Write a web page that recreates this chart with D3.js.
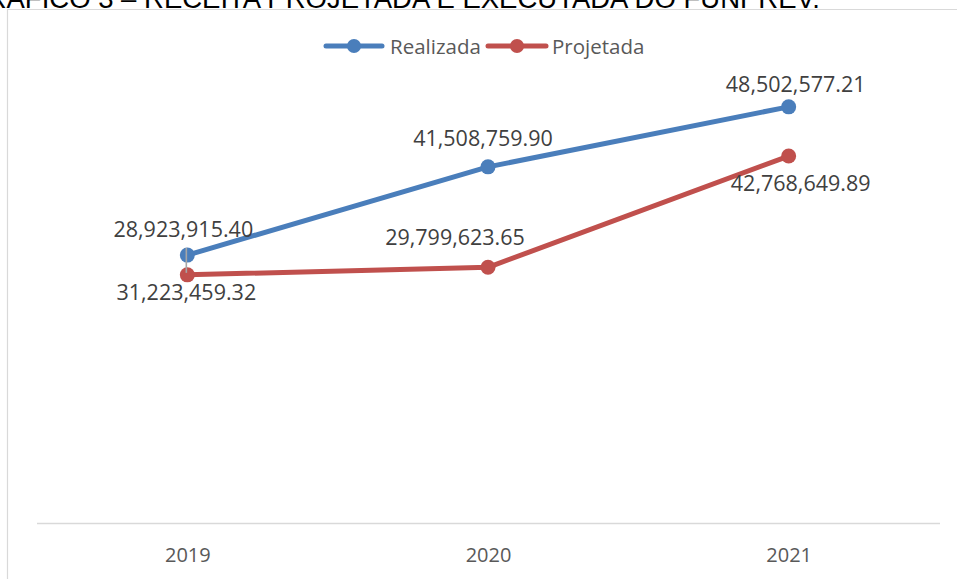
<!DOCTYPE html>
<html><head><meta charset="utf-8">
<script src="https://cdn.jsdelivr.net/npm/d3@7"></script>
<style>body{margin:0;background:#fff}svg{display:block}</style>
</head><body>
<svg id="c" width="957" height="579"></svg>
<script>
const title = "GRÁFICO 3 – RECEITA PROJETADA E EXECUTADA DO FUNPREV.";
const categories = ["2019", "2020", "2021"];
const seriesNames = ["Realizada", "Projetada"];
const realizada = [31223459.32, 41508759.90, 48502577.21];
const projetada = [28923915.40, 29799623.65, 42768649.89];
const yDomain = [0, 50000000];

const colors = {Realizada: "#4a7ebb", Projetada: "#c0504d"};
// label placement (pixel offsets from each point), kept apart from data
const labelOffsets = {
  Realizada: [[-1, 45], [-5, -21], [7, -15]],
  Projetada: [[-4, -38], [-33, -22], [12, 35]]
};

const svg = d3.select("#c");
const W = 957, H = 579;
const x = d3.scalePoint().domain(categories).range([37, 939]).padding(0.5);
const y = d3.scaleLinear().domain(yDomain).range([523, 94]);

// title (partially cut at top, as in the source page)
svg.append("text").attr("x", 820).attr("y", 7.5).attr("text-anchor", "end")
  .attr("font-family", "Liberation Sans, Arial, sans-serif").attr("font-size", 27.5)
  .attr("fill", "#000").text(title);

// chart frame
svg.append("path").attr("d", `M7.5,${H} V9.5 H${W}`).attr("fill", "none")
  .attr("stroke", "#d9d9d9").attr("stroke-width", 1.2);

// x axis
const xAxis = d3.axisBottom(x).tickSize(0).tickPadding(25);
const gx = svg.append("g").attr("transform", `translate(0,${y(0)})`).call(xAxis);
gx.select(".domain").attr("d", `M37,0.5H940`).attr("stroke", "#d9d9d9").attr("stroke-width", 1.5);
gx.selectAll("text").attr("font-family", "Open Sans, sans-serif").attr("font-size", 20)
  .attr("fill", "#595959");

const series = [
  {name: "Realizada", values: realizada},
  {name: "Projetada", values: projetada}
];
const line = d3.line().x((d, i) => x(categories[i])).y(d => y(d));

series.forEach(s => {
  svg.append("path").datum(s.values).attr("d", line).attr("fill", "none")
    .attr("stroke", colors[s.name]).attr("stroke-width", 5).attr("stroke-linejoin", "round");
});
series.forEach(s => {
  svg.selectAll(null).data(s.values).join("circle")
    .attr("cx", (d, i) => x(categories[i])).attr("cy", d => y(d)).attr("r", 7.5)
    .attr("fill", colors[s.name]);
});

// leader line for the moved 2019 label of Projetada
{
  const px = x(categories[0]), py = y(projetada[0]);
  const ly = py + labelOffsets.Projetada[0][1];
  svg.append("line").attr("x1", px - 1).attr("x2", px - 1).attr("y1", ly + 11).attr("y2", py - 2)
    .attr("stroke", "#a6a6a6").attr("stroke-width", 1.6);
}

const fmt = d3.format(",.2f");
series.forEach(s => {
  svg.selectAll(null).data(s.values).join("text")
    .attr("x", (d, i) => x(categories[i]) + labelOffsets[s.name][i][0])
    .attr("y", (d, i) => y(d) + labelOffsets[s.name][i][1])
    .attr("text-anchor", "middle")
    .attr("font-family", "Open Sans, sans-serif").attr("font-size", 21.5)
    .attr("fill", "#404040").text(d => fmt(d));
});

// legend
const lg = svg.append("g");
const legendItems = [
  {name: seriesNames[0], x0: 326, x1: 382, tx: 390},
  {name: seriesNames[1], x0: 488, x1: 546, tx: 552}
];
legendItems.forEach(it => {
  lg.append("line").attr("x1", it.x0).attr("x2", it.x1).attr("y1", 46).attr("y2", 46)
    .attr("stroke", colors[it.name]).attr("stroke-width", 5).attr("stroke-linecap", "round");
  lg.append("circle").attr("cx", (it.x0 + it.x1) / 2).attr("cy", 46).attr("r", 7)
    .attr("fill", colors[it.name]);
  lg.append("text").attr("x", it.tx).attr("y", 54).attr("font-family", "Open Sans, sans-serif")
    .attr("font-size", 20.5).attr("fill", "#595959").text(it.name);
});
</script>
</body></html>
